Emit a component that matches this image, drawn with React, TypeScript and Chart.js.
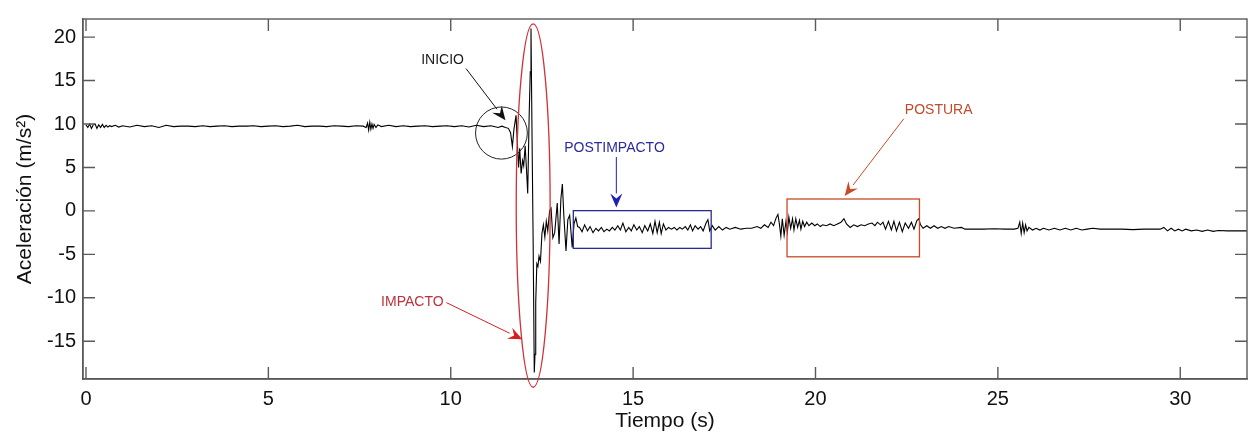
import React, { useEffect, useRef } from "react";
import { Chart, registerables } from "chart.js";

Chart.register(...registerables);

// ---- Señal: tiempo (s) y aceleración (m/s²) ----
const tiempo: number[] = [
  0, 0.05, 0.1, 0.15, 0.2, 0.25, 0.3, 0.35, 0.4, 0.45, 0.5, 0.55, 0.6, 0.65, 0.7, 0.8, 0.9, 1.0,
  1.2, 1.4, 1.6, 1.8, 2.0, 2.2, 2.4, 2.6, 2.8, 3.0, 3.2, 3.4, 3.6, 3.8, 4.0, 4.2, 4.4, 4.6, 4.8, 5.0,
  5.2, 5.4, 5.6, 5.8, 6.0, 6.2, 6.4, 6.6, 6.8, 7.0, 7.2, 7.4, 7.6,
  7.68, 7.72, 7.75, 7.78, 7.81, 7.84, 7.87, 7.9, 7.95, 8.0, 8.1,
  8.3, 8.5, 8.7, 8.9, 9.1, 9.3, 9.5, 9.7, 9.9, 10.1, 10.3, 10.5, 10.7, 10.9, 11.1, 11.3,
  11.4, 11.5, 11.58, 11.64, 11.69, 11.73, 11.79, 11.83, 11.86, 11.89, 11.93, 11.97, 12.0, 12.04, 12.08, 12.11,
  12.15, 12.18, 12.2, 12.23, 12.26, 12.29, 12.31, 12.33, 12.36, 12.39, 12.42, 12.46, 12.5, 12.54, 12.58, 12.62,
  12.66, 12.71, 12.75, 12.8, 12.85, 12.92, 12.97, 13.02, 13.06, 13.1, 13.16, 13.21, 13.26, 13.33, 13.38, 13.43, 13.48,
  13.53, 13.6, 13.67, 13.75, 13.82, 13.9, 13.98, 14.05, 14.13, 14.2, 14.28, 14.35, 14.43, 14.5, 14.58, 14.65, 14.72,
  14.8, 14.88, 14.95, 15.02, 15.1, 15.17, 15.25, 15.32, 15.4, 15.47, 15.54, 15.6, 15.66, 15.72, 15.77, 15.83, 15.9,
  15.97, 16.05, 16.13, 16.2, 16.28, 16.35, 16.43, 16.5, 16.57, 16.63, 16.7, 16.78, 16.85, 16.92, 17.0, 17.05, 17.1,
  17.17, 17.25, 17.35, 17.45, 17.55, 17.65, 17.8, 17.95, 18.1, 18.25, 18.4, 18.5, 18.6, 18.7, 18.78, 18.85, 18.92,
  18.97, 19.01, 19.05, 19.09, 19.14, 19.19, 19.23, 19.27, 19.32, 19.37, 19.41, 19.46, 19.51, 19.56, 19.6, 19.65,
  19.7, 19.76, 19.82, 19.9, 19.98, 20.05, 20.13, 20.2, 20.3, 20.4, 20.5, 20.6, 20.7, 20.78, 20.85, 20.95, 21.05,
  21.15, 21.25, 21.35, 21.45, 21.55, 21.63, 21.7, 21.78, 21.85, 21.92, 22.0, 22.08, 22.15, 22.22, 22.3, 22.38,
  22.46, 22.55, 22.63, 22.7, 22.78, 22.83, 22.88, 22.95, 23.05, 23.15, 23.25, 23.35, 23.45, 23.55, 23.65, 23.8,
  24.0, 24.1, 24.3, 24.6, 24.9, 25.2, 25.45, 25.55, 25.6, 25.64, 25.68, 25.72, 25.76, 25.8, 25.85, 25.95, 26.05,
  26.15, 26.25, 26.4, 26.55, 26.7, 26.85, 27.0, 27.15, 27.3, 27.45, 27.6, 27.8, 28.1, 28.4, 28.7, 29.0, 29.3,
  29.45, 29.55, 29.65, 29.75, 29.85, 29.95, 30.05, 30.15, 30.3, 30.45, 30.6, 30.75, 30.9, 31.05, 31.3, 31.6, 31.83,
];

const aceleracion: number[] = [
  9.9, 9.6, 10.0, 9.5, 9.9, 10.0, 9.5, 9.9, 9.6, 9.95, 9.6, 9.85, 9.65, 9.8, 9.7, 9.85, 9.65, 9.8,
  9.65, 9.85, 9.7, 9.8, 9.6, 9.85, 9.7, 9.75, 9.75, 9.7, 9.8, 9.7, 9.75, 9.8, 9.7, 9.75, 9.75, 9.8, 9.7, 9.75,
  9.8, 9.7, 9.75, 9.85, 9.7, 9.75, 9.75, 9.7, 9.8, 9.75, 9.7, 9.8, 9.75,
  9.6, 10.1, 9.3, 10.2, 9.4, 10.0, 9.5, 9.95, 9.6, 9.9, 9.7,
  9.85, 9.7, 9.8, 9.7, 9.75, 9.8, 9.7, 9.75, 9.8, 9.7, 9.8, 9.65, 9.85, 9.7, 9.8, 9.6,
  9.75, 9.6, 9.5, 9.0, 7.4, 9.3, 11.0, 7.5, 5.0, 7.2, 4.3, 5.8, 5.2, 7.5, 4.5, 2.0,
  11.0, 16.0, 21.0, 8.0, -4.0, -18.6, -16.5, -10.5, -6.1, -6.4, -5.2, -5.8, -2.6, -1.6, -3.0, -1.2,
  -2.3, 0.0, 0.3, -3.1, -2.5, 0.9, -3.8, 1.4, 3.1, -0.5, -4.6, -1.0, -0.5, -4.2, -1.5, -0.8, -1.8,
  -1.9, -2.4, -1.6, -2.3, -1.8, -2.5, -2.0, -2.3, -1.9, -2.4, -2.1, -2.3, -1.9, -2.2, -1.7, -2.2, -1.4,
  -2.4, -1.9, -2.3, -1.6, -2.2, -1.8, -2.5, -1.7, -2.3, -1.5, -2.6, -1.2, -2.5, -1.3, -2.6, -1.5, -2.2,
  -1.9, -2.1, -1.9, -2.2, -1.9, -2.1, -1.8, -2.2, -1.6, -2.3, -1.7, -2.1, -1.8, -2.3, -1.4, -1.0, -2.3,
  -1.7, -2.2, -1.8, -2.2, -1.9, -2.1, -1.9, -2.1, -2.0, -2.0, -1.8, -2.0, -1.6, -1.9, -1.3, -1.7, -0.8,
  -0.4, -1.5, -2.9, -0.9, -2.8, -1.2, -2.4, -0.7, -2.0, -0.9, -2.2, -0.9, -1.9, -1.1, -2.1, -1.2,
  -1.8, -1.3, -1.7, -1.4, -1.7, -1.5, -1.8, -1.6, -1.7, -1.5, -1.7, -1.5, -1.3, -0.9, -1.5, -1.9, -1.6,
  -1.8, -1.6, -1.7, -1.5, -1.4, -1.7, -1.3, -1.6, -1.3, -2.1, -1.2, -2.2, -1.2, -2.3, -1.3, -2.4,
  -1.4, -2.0, -1.3, -2.1, -1.1, -0.9, -1.6, -2.0, -1.7, -2.0, -1.7, -2.0, -1.8, -2.0, -1.8, -2.0,
  -1.9, -2.1, -2.1, -2.1, -2.05, -2.1, -2.1, -2.0, -1.3, -2.6, -1.4, -2.5, -1.6, -2.3, -1.9, -2.2, -2.0,
  -2.2, -2.0, -2.2, -2.0, -2.2, -2.0, -2.2, -2.0, -2.2, -2.1, -2.0, -2.1, -2.1, -2.1, -2.15, -2.1, -2.1,
  -2.1, -1.9, -2.3, -2.0, -2.3, -2.1, -2.3, -2.1, -2.3, -2.2, -2.35, -2.2, -2.35, -2.25, -2.3, -2.3, -2.3,
];

// ---- Ejes ----
const xLimites = [-0.082, 31.83];
const yLimites = [-19.34, 22.08];
const pasoX = 5;
const pasoY = 5;
const tituloX = "Tiempo (s)";
const tituloY = "Aceleración (m/s²)";

// ---- Anotaciones (en unidades de datos) ----
const circuloInicio = { t: 11.39, v: 8.96, rt: 0.71, rv: 3.0 };
const elipseImpacto = { t: 12.26, v: 0.61, rt: 0.465, rv: 20.9 };
const cajaPostimpacto = { t0: 13.36, t1: 17.14, v0: 0.03, v1: -4.31 };
const cajaPostura = { t0: 19.22, t1: 22.85, v0: 1.37, v1: -5.28 };
const textos = [
  { texto: "INICIO", t: 9.19, v: 17.29, color: "#1a1a1a" },
  { texto: "IMPACTO", t: 8.09, v: -10.55, color: "#c0303a" },
  { texto: "POSTIMPACTO", t: 13.11, v: 7.19, color: "#2a2aa0" },
  { texto: "POSTURA", t: 22.45, v: 11.54, color: "#c04a2a" },
];
const flechas = [
  { t0: 10.42, v0: 16.37, t1: 11.5, v1: 10.42, color: "#111111" },
  { t0: 9.88, v0: -10.55, t1: 11.96, v1: -14.78, color: "#d42020" },
  { t0: 14.54, v0: 6.2, t1: 14.54, v1: 0.4, color: "#2020b8" },
  { t0: 22.42, v0: 10.6, t1: 20.8, v1: 1.71, color: "#c84a28" },
];

const anotaciones = {
  id: "anotaciones",
  afterDraw(chart: any) {
    const ctx = chart.ctx;
    const xs = chart.scales.x;
    const ys = chart.scales.y;
    const px = (t: number) => xs.getPixelForValue(t);
    const py = (v: number) => ys.getPixelForValue(v);
    const { left, right, top, bottom } = chart.chartArea;
    ctx.save();
    // marco y marcas de escala hacia dentro
    ctx.strokeStyle = "#5a5a5a";
    ctx.lineWidth = 1.4;
    ctx.strokeRect(left, top, right - left, bottom - top);
    ctx.beginPath();
    xs.ticks.forEach((tk: any) => {
      const x = px(tk.value);
      ctx.moveTo(x, bottom);
      ctx.lineTo(x, bottom - 12);
      ctx.moveTo(x, top);
      ctx.lineTo(x, top + 12);
    });
    ys.ticks.forEach((tk: any) => {
      const y = py(tk.value);
      ctx.moveTo(left, y);
      ctx.lineTo(left + 12, y);
      ctx.moveTo(right, y);
      ctx.lineTo(right - 12, y);
    });
    ctx.stroke();

    // círculo inicio
    ctx.lineWidth = 1;
    ctx.strokeStyle = "#222222";
    ctx.beginPath();
    ctx.ellipse(
      px(circuloInicio.t), py(circuloInicio.v),
      px(circuloInicio.t + circuloInicio.rt) - px(circuloInicio.t),
      py(circuloInicio.v) - py(circuloInicio.v + circuloInicio.rv),
      0, 0, Math.PI * 2
    );
    ctx.stroke();

    // elipse impacto
    ctx.strokeStyle = "#d03038";
    ctx.lineWidth = 1.3;
    ctx.beginPath();
    ctx.ellipse(
      px(elipseImpacto.t), py(elipseImpacto.v),
      px(elipseImpacto.t + elipseImpacto.rt) - px(elipseImpacto.t),
      py(elipseImpacto.v) - py(elipseImpacto.v + elipseImpacto.rv),
      0, 0, Math.PI * 2
    );
    ctx.stroke();

    // cajas
    ctx.lineWidth = 1.3;
    ctx.strokeStyle = "#2a2a90";
    ctx.strokeRect(
      px(cajaPostimpacto.t0), py(cajaPostimpacto.v0),
      px(cajaPostimpacto.t1) - px(cajaPostimpacto.t0),
      py(cajaPostimpacto.v1) - py(cajaPostimpacto.v0)
    );
    ctx.strokeStyle = "#c84a28";
    ctx.strokeRect(
      px(cajaPostura.t0), py(cajaPostura.v0),
      px(cajaPostura.t1) - px(cajaPostura.t0),
      py(cajaPostura.v1) - py(cajaPostura.v0)
    );

    // flechas
    flechas.forEach((f) => {
      const x0 = px(f.t0), y0 = py(f.v0), x1 = px(f.t1), y1 = py(f.v1);
      const ang = Math.atan2(y1 - y0, x1 - x0);
      const len = 14, half = 6;
      const bx = x1 - len * Math.cos(ang), by = y1 - len * Math.sin(ang);
      ctx.strokeStyle = f.color;
      ctx.fillStyle = f.color;
      ctx.lineWidth = 1;
      ctx.beginPath();
      ctx.moveTo(x0, y0);
      ctx.lineTo(bx, by);
      ctx.stroke();
      ctx.beginPath();
      ctx.moveTo(x1, y1);
      ctx.lineTo(bx + half * Math.cos(ang + Math.PI / 2), by + half * Math.sin(ang + Math.PI / 2));
      ctx.lineTo(x1 - 9 * Math.cos(ang), y1 - 9 * Math.sin(ang));
      ctx.lineTo(bx - half * Math.cos(ang + Math.PI / 2), by - half * Math.sin(ang + Math.PI / 2));
      ctx.closePath();
      ctx.fill();
    });

    // textos
    ctx.font = "14px 'Liberation Sans', Arial, sans-serif";
    ctx.textAlign = "left";
    ctx.textBaseline = "middle";
    textos.forEach((tx) => {
      ctx.fillStyle = tx.color;
      ctx.fillText(tx.texto, px(tx.t), py(tx.v));
    });
    ctx.restore();
  },
};

export default function App() {
  const ref = useRef<HTMLCanvasElement | null>(null);
  useEffect(() => {
    if (!ref.current) return;
    const chart = new Chart(ref.current, {
      type: "line",
      data: {
        datasets: [
          {
            data: tiempo.map((t, i) => ({ x: t, y: aceleracion[i] })),
            borderColor: "#000000",
            borderWidth: 1.1,
            pointRadius: 0,
            tension: 0,
            fill: false,
          },
        ],
      },
      options: {
        animation: false,
        responsive: false,
        maintainAspectRatio: false,
        layout: { padding: { top: 7, right: 2, left: 0, bottom: 0 } },
        plugins: { legend: { display: false }, tooltip: { enabled: false } },
        scales: {
          x: {
            type: "linear",
            min: xLimites[0],
            max: xLimites[1],
            afterFit: (s: any) => { s.height = 57; },
            grid: { display: false, drawTicks: false },
            border: { display: true, color: "#5a5a5a", width: 1.4 },
            ticks: {
              stepSize: pasoX,
              includeBounds: false,
              padding: 8,
              color: "#111111",
              font: { family: "'Liberation Sans', Arial, sans-serif", size: 20 },
              maxRotation: 0,
            },
            title: {
              display: true,
              text: tituloX,
              color: "#111111",
              font: { family: "'Liberation Sans', Arial, sans-serif", size: 21 },
              padding: { top: 0, bottom: 2 },
            },
          },
          y: {
            type: "linear",
            min: yLimites[0],
            max: yLimites[1],
            afterFit: (s: any) => { s.width = 83; },
            grid: { display: false, drawTicks: false },
            border: { display: true, color: "#5a5a5a", width: 1.4 },
            ticks: {
              stepSize: pasoY,
              includeBounds: false,
              padding: 7,
              color: "#111111",
              font: { family: "'Liberation Sans', Arial, sans-serif", size: 20 },
            },
            title: {
              display: true,
              text: tituloY,
              color: "#111111",
              font: { family: "'Liberation Sans', Arial, sans-serif", size: 21 },
              padding: { top: 13, bottom: 0 },
            },
          },
        },
      },
      plugins: [anotaciones],
    });
    return () => chart.destroy();
  }, []);
  return (
    <div style={{ position: "fixed", left: 0, top: 0, width: 1249, height: 436, background: "#ffffff" }}>
      <canvas ref={ref} width={1249} height={436} style={{ width: 1249, height: 436 }} />
    </div>
  );
}
